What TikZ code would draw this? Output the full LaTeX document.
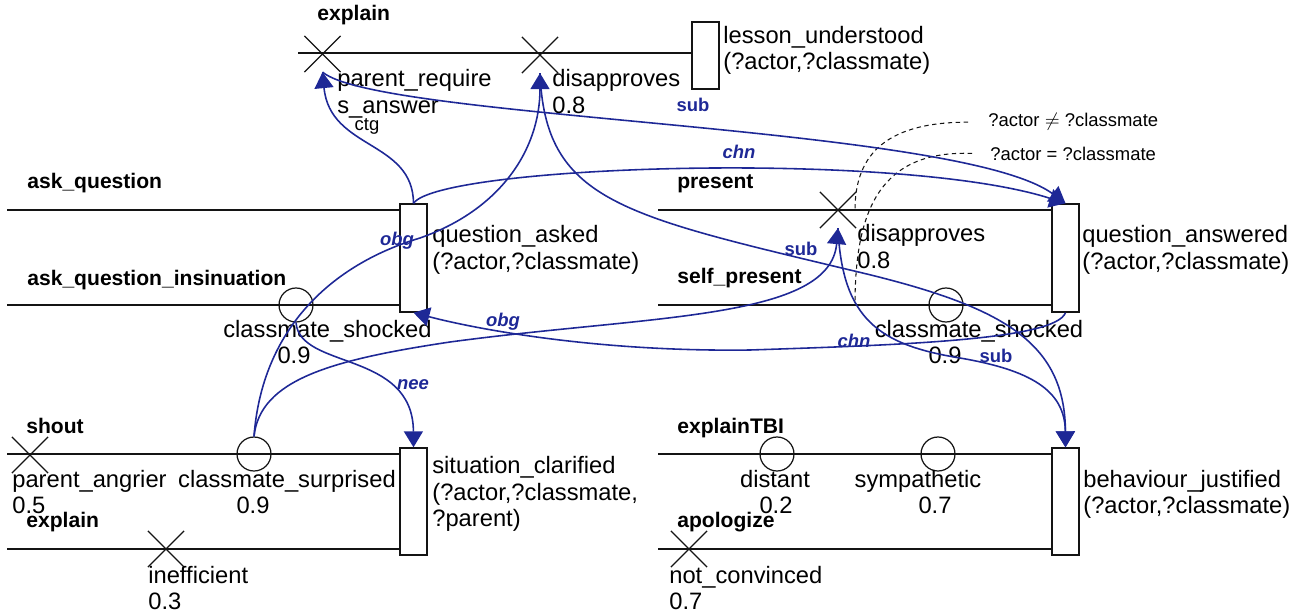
\documentclass[tikz,border=0pt]{standalone}
\usepackage{xcolor}
\usepackage{fontspec}
\setmainfont{Liberation Sans}
\usepackage{tikz}
\usetikzlibrary{shapes.misc, arrows.meta}
\definecolor{relblue}{RGB}{30,40,150}
\definecolor{mydark}{RGB}{20,20,20}
\tikzset{
  goal/.style={rectangle,draw=mydark,fill=white,minimum width=0.54cm,inner sep=0pt,line width=0.8pt},
  xev/.style={cross out,draw=mydark,minimum size=0.7cm,inner sep=0pt,line width=0.7pt},
  oev/.style={circle,draw=mydark,minimum size=0.68cm,inner sep=0pt,line width=0.7pt},
  tl/.style={line width=1.3pt,color=mydark},
  act/.style={font=\fontsize{12}{14}\selectfont\bfseries,inner sep=0pt,anchor=base west},
  txt/.style={font=\fontsize{13.5}{14.8}\selectfont,inner sep=0pt,align=left,anchor=base west},
  val/.style={font=\fontsize{13.5}{14.8}\selectfont,inner sep=0pt,anchor=base},
  rel/.style={-{Triangle[length=0.32cm,width=0.38cm]},line width=0.9pt,color=relblue},
  rlbl/.style={font=\fontsize{10.5}{12}\selectfont\bfseries\itshape,text=relblue,inner sep=0pt,anchor=base},
  sublbl/.style={font=\fontsize{10.5}{12}\selectfont\bfseries,text=relblue,inner sep=0pt,anchor=base},
  cond/.style={font=\fontsize{10.5}{12}\selectfont,inner sep=0pt,anchor=base west},
  condline/.style={dashed,dash pattern=on 2.5pt off 2pt,line width=0.6pt,color=mydark}
}

\begin{document}
\begin{tikzpicture}[x=0.02cm,y=-0.02cm]
  \useasboundingbox (0,0) rectangle (1302,615);

  % top: explain
  \node[act] at (317,21) {explain};
  \node[goal, minimum height=1.34cm] (lu) at (705.5,55.5) {};
  \coordinate (t1) at (298,53);
  \draw[tl] (t1) -- (t1 -| lu.west);
  \node[xev] (prq) at (322.5,54) {};
  \node[xev] (dis1) at (540,55) {};
  \node[txt] at (337,113) {parent\_require\\s\_answer};
  \node[txt] at (552,113) {disapproves\\0.8};
  \node[txt] at (723,70) {lesson\_understood\\(?actor,?classmate)};

  % ask_question / ask_question_insinuation
  \node[act] at (27,189) {ask\_question};
  \node[goal, minimum height=2.16cm] (qa) at (413.5,258) {};
  \coordinate (t2) at (7,210);
  \draw[tl] (t2) -- (t2 -| qa.west);
  \node[act] at (27,285) {ask\_question\_insinuation};
  \coordinate (t3) at (7,305);
  \draw[tl] (t3) -- (t3 -| qa.west);
  \node[oev] (csh1) at (296,305) {};
  \node[val] at (327.5,337) {classmate\_shocked};
  \node[val] at (294,363) {0.9};
  \node[txt] at (432,269) {question\_asked\\(?actor,?classmate)};

  % shout / explain
  \node[act] at (26,433) {shout};
  \node[goal, minimum height=2.14cm] (sc) at (413.5,501.5) {};
  \coordinate (t4) at (7,454);
  \draw[tl] (t4) -- (t4 -| sc.west);
  \node[xev] (pang) at (30,455) {};
  \node[txt] at (12,513) {parent\_angrier\\0.5};
  \node[oev] (csur) at (254,454) {};
  \node[val] at (287,487) {classmate\_surprised};
  \node[val] at (253,513) {0.9};
  \node[act] at (26,527) {explain};
  \coordinate (t5) at (7,549);
  \draw[tl] (t5) -- (t5 -| sc.west);
  \node[xev] (ineff) at (166,549) {};
  \node[txt] at (148,609) {inefficient\\0.3};
  \node[txt] at (432,526) {situation\_clarified\\(?actor,?classmate,\\?parent)};

  % present / self_present
  \node[act] at (677,189) {present};
  \node[goal, minimum height=2.16cm] (qan) at (1065.5,258) {};
  \coordinate (t6) at (658,210);
  \draw[tl] (t6) -- (t6 -| qan.west);
  \node[xev] (dis2) at (838,210) {};
  \node[txt] at (857,268) {disapproves\\0.8};
  \node[act] at (677,283) {self\_present};
  \coordinate (t7) at (658,305);
  \draw[tl] (t7) -- (t7 -| qan.west);
  \node[oev] (csh2) at (946,305) {};
  \node[val] at (979,337) {classmate\_shocked};
  \node[val] at (945,363) {0.9};
  \node[txt] at (1082,269) {question\_answered\\(?actor,?classmate)};

  % explainTBI / apologize
  \node[act] at (677,433) {explainTBI};
  \node[goal, minimum height=2.14cm] (bj) at (1065.5,501.5) {};
  \coordinate (t8) at (658,454);
  \draw[tl] (t8) -- (t8 -| bj.west);
  \node[oev] (dist) at (777,454) {};
  \node[val] at (775,487) {distant};
  \node[val] at (776,513) {0.2};
  \node[oev] (symp) at (938,454) {};
  \node[val] at (918,487) {sympathetic};
  \node[val] at (935,513) {0.7};
  \node[act] at (677,527) {apologize};
  \coordinate (t9) at (658,549);
  \draw[tl] (t9) -- (t9 -| bj.west);
  \node[xev] (notc) at (689,549) {};
  \node[txt] at (669,609) {not\_convinced\\0.7};
  \node[txt] at (1083,513) {behaviour\_justified\\(?actor,?classmate)};

  % conditions
  \node[cond] (cne) at (988,127) {?actor $\neq$ ?classmate};
  \node[cond] (ceq) at (990,160) {?actor = ?classmate};
  \coordinate (cne1) at (855,210);
  \coordinate (ceq1) at (855,305);
  \draw[condline] (cne.west) ++(-20,0) .. controls (880,122) and (855,160) .. (cne1);
  \draw[condline] (ceq.west) ++(-18,0) .. controls (880,150) and (855,210) .. (ceq1);

  % relations
  \draw[rel] (qa.north) .. controls (413,140) and (330,150) .. (prq.south);
  \node[font=\fontsize{10.5}{12}\selectfont,inner sep=0pt,anchor=base] at (367,131) {ctg};
  \draw[rel] (qa.north) .. controls (440,165) and (900,150) .. (qan.north);
  \node[rlbl] at (739,158) {chn};
  \draw[rel] (prq.south) .. controls (380,120) and (960,125) .. (qan.north);
  \node[sublbl] at (693,112) {sub};
  \draw[rel] (csur.north) .. controls (262,330) and (330,265) .. (420,238)
    .. controls (500,210) and (540,150) .. (dis1.south);
  \node[rlbl] at (397,245) {obg};
  \draw[rel] (csur.north) .. controls (260,380) and (330,360) .. (450,342)
    .. controls (650,315) and (830,320) .. (dis2.south);
  \node[rlbl] at (503,326) {obg};
  \draw[rel] (csh1.south) .. controls (300,370) and (413,350) .. (sc.north);
  \node[rlbl] at (413,389) {nee};
  \draw[rel] (qan.south) .. controls (1055,340) and (900,345) .. (750,350)
    .. controls (600,352) and (480,330) .. (qa.south);
  \node[rlbl] at (854,347) {chn};
  \draw[rel] (dis1.south) .. controls (545,200) and (620,215) .. (850,270)
    .. controls (1000,305) and (1065,340) .. (bj.north);
  \node[sublbl] at (801,255) {sub};
  \draw[rel] (dis2.south) .. controls (842,320) and (880,345) .. (960,358)
    .. controls (1030,370) and (1065,390) .. (bj.north);
  \node[sublbl] at (996,362) {sub};
\end{tikzpicture}
\end{document}
